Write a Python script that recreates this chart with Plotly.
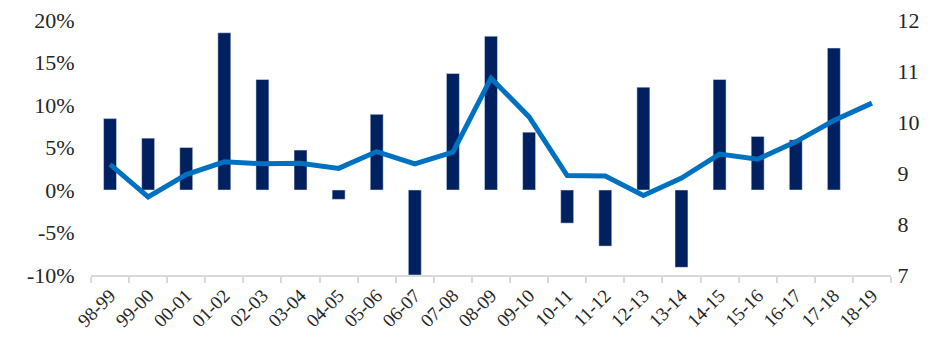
import plotly.graph_objects as go

# Fiscal years
years = ["98-99", "99-00", "00-01", "01-02", "02-03", "03-04", "04-05", "05-06",
         "06-07", "07-08", "08-09", "09-10", "10-11", "11-12", "12-13", "13-14",
         "14-15", "15-16", "16-17", "17-18", "18-19"]

# Annual growth rate (left axis), last year not available
growth = [0.084, 0.061, 0.050, 0.185, 0.130, 0.047, -0.011, 0.089,
          -0.100, 0.137, 0.181, 0.068, -0.039, -0.066, 0.121, -0.091,
          0.130, 0.063, 0.059, 0.167, None]

# Level series (right axis)
level = [9.17, 8.53, 8.97, 9.22, 9.18, 9.19, 9.09, 9.42,
         9.18, 9.41, 10.86, 10.10, 8.95, 8.94, 8.56, 8.90,
         9.37, 9.27, 9.61, 10.03, 10.37]

left_ticks = [-0.10, -0.05, 0.0, 0.05, 0.10, 0.15, 0.20]
right_ticks = [7, 8, 9, 10, 11, 12]

# tick labels, padded with non-breaking spaces to keep them clear of the plot
left_text = [f"{round(v * 100)}%\u00a0\u00a0\u2009" for v in left_ticks]
right_text = [f"\u00a0{v}" for v in right_ticks]

font_family = "Liberation Serif"
text_color = "#262626"

fig = go.Figure()
fig.add_trace(go.Bar(
    x=years, y=growth, marker_color="#002060", width=0.34,
    yaxis="y", showlegend=False,
))
fig.add_trace(go.Scatter(
    x=years, y=level, mode="lines",
    line=dict(color="#0070C0", width=5),
    yaxis="y2", showlegend=False,
))

fig.update_layout(
    width=940, height=338,
    margin=dict(l=91, r=49, t=20, b=63),
    paper_bgcolor="white", plot_bgcolor="white",
    font=dict(family=font_family, size=22, color=text_color),
    xaxis=dict(
        type="category", tickangle=-45, showgrid=False, automargin=False,
        showline=True, linecolor="#d9d9d9", linewidth=2,
        ticks="outside", tickson="boundaries", ticklen=6,
        tickcolor="#d9d9d9", tickwidth=2,
        tickfont=dict(size=19),
        zeroline=False,
    ),
    yaxis=dict(
        range=[-0.10, 0.20], tickvals=left_ticks, ticktext=left_text,
        showgrid=False, zeroline=False, showline=False, ticks="",
        automargin=False,
    ),
    yaxis2=dict(
        range=[7, 12], tickvals=right_ticks, ticktext=right_text,
        overlaying="y", side="right",
        showgrid=False, zeroline=False, showline=False, ticks="",
        automargin=False,
    ),
)

fig.write_html("out.html")
